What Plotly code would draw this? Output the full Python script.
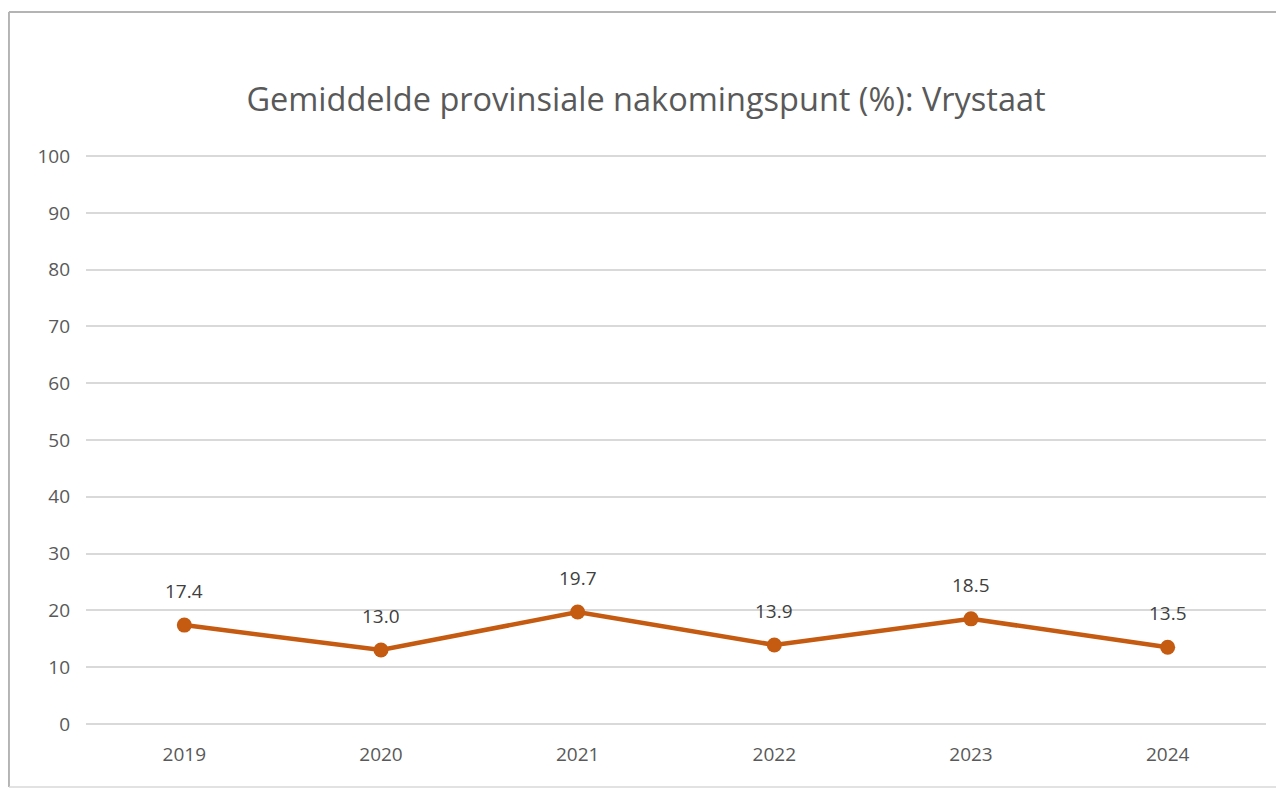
import plotly.graph_objects as go

years = ["2019", "2020", "2021", "2022", "2023", "2024"]
scores = [17.4, 13.0, 19.7, 13.9, 18.5, 13.5]
labels = ["17.4", "13.0", "19.7", "13.9", "18.5", "13.5"]
y_ticks = list(range(0, 101, 10))

title_text = "Gemiddelde provinsiale nakomingspunt (%): Vrystaat"
line_color = "#C55A11"
text_color = "#595959"
font_family = "Open Sans, Liberation Sans, sans-serif"

fig = go.Figure()
fig.add_trace(go.Scatter(
    x=years, y=scores, mode="lines+markers",
    line=dict(color=line_color, width=4.5),
    marker=dict(color=line_color, size=15),
    hoverinfo="x+y", showlegend=False,
))

for i, (y, t) in enumerate(zip(scores, labels)):
    fig.add_annotation(x=i, y=y, xref="x", yref="y", text=t, showarrow=False, yshift=34,
                       font=dict(size=19, color="#404040", family=font_family))

# chart-area border (right edge lies outside the picture)
bx0, bx1, by0, by1 = -0.0653, 1.03, -0.1088, 1.2509
fig.add_shape(type="line", xref="paper", yref="paper", x0=bx0, x1=bx1, y0=by1, y1=by1,
              line=dict(color="#b4b4b4", width=2))
fig.add_shape(type="line", xref="paper", yref="paper", x0=bx0, x1=bx0, y0=by0, y1=by1,
              line=dict(color="#b4b4b4", width=2))
fig.add_shape(type="line", xref="paper", yref="paper", x0=bx0, x1=bx1, y0=by0, y1=by0,
              line=dict(color="#d9d9d9", width=1.5))

fig.update_layout(
    width=1276, height=790,
    margin=dict(l=78, r=18, t=147, b=73),
    paper_bgcolor="white", plot_bgcolor="white",
    title=dict(text=title_text, x=0.5, xanchor="center", y=1 - 92 / 790, yanchor="middle",
               font=dict(size=32.5, color=text_color, family=font_family)),
    xaxis=dict(type="category", range=[-0.5, 5.5], showgrid=False, showline=False,
               zeroline=False, ticks="", ticklabelstandoff=16,
               tickfont=dict(size=19, color=text_color, family=font_family)),
    yaxis=dict(range=[-0.2, 100.2], tickvals=y_ticks, showgrid=True, gridcolor="#d9d9d9",
               gridwidth=1.5, zeroline=False, showline=False, ticks="",
               ticklabelstandoff=15, tickfont=dict(size=19, color=text_color, family=font_family)),
    font=dict(family=font_family),
)

fig.write_html("out.html")
